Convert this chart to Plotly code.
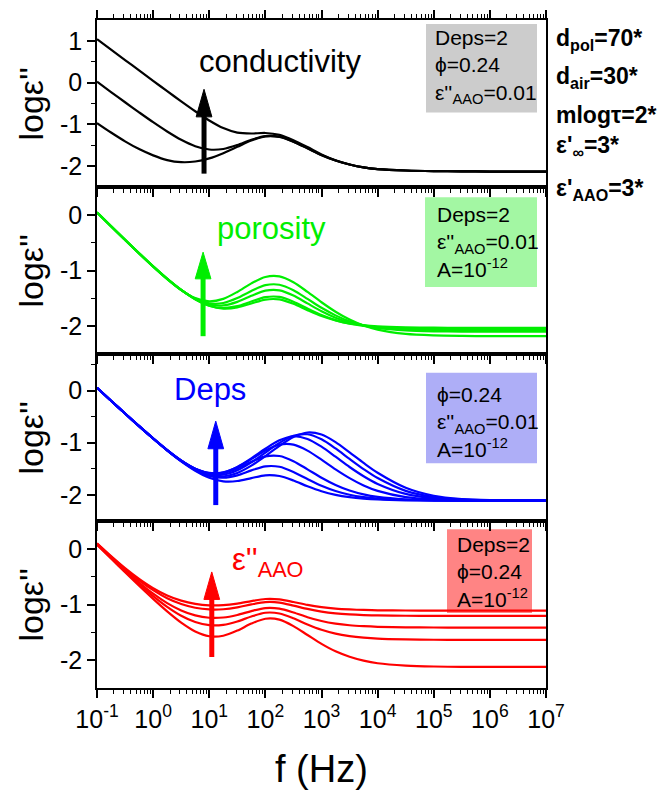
import plotly.graph_objects as go
from plotly.subplots import make_subplots

# ---------------- data ----------------
# log10 of frequency (Hz) at which each curve is sampled
LOG_F = [-1, -0.75, -0.5, -0.25, 0, 0.25, 0.5, 0.75, 1, 1.25, 1.5, 1.75, 2,
         2.25, 2.5, 2.75, 3, 3.25, 3.5, 3.75, 4, 4.5, 5, 5.5, 6, 6.5, 7]

# panel 1: varying conductivity (log eps'')
COND_HIGH = [1.04, 0.791, 0.541, 0.292, 0.043, -0.204, -0.448, -0.685, -0.906, -1.089,
             -1.198, -1.219, -1.206, -1.252, -1.379, -1.544, -1.72, -1.86, -1.96, -2.03,
             -2.07, -2.105, -2.12, -2.125, -2.13, -2.13, -2.13]
COND_MID = [0.023, -0.225, -0.47, -0.712, -0.948, -1.17, -1.369, -1.522, -1.602, -1.589,
            -1.495, -1.369, -1.282, -1.297, -1.413, -1.572, -1.735, -1.865, -1.96, -2.03,
            -2.07, -2.105, -2.12, -2.125, -2.13, -2.13, -2.13]
COND_LOW = [-0.969, -1.195, -1.406, -1.592, -1.742, -1.855, -1.905, -1.89, -1.815, -1.69,
            -1.538, -1.386, -1.29, -1.302, -1.416, -1.575, -1.737, -1.866, -1.96, -2.03,
            -2.07, -2.105, -2.12, -2.125, -2.13, -2.13, -2.13]

# panel 2: varying porosity
POR_1 = [0.043, -0.205, -0.451, -0.694, -0.931, -1.154, -1.351, -1.496, -1.555, -1.51,
         -1.385, -1.231, -1.116, -1.106, -1.212, -1.384, -1.57, -1.74, -1.881, -1.988,
         -2.062, -2.14, -2.167, -2.176, -2.179, -2.18, -2.18]
POR_2 = [0.043, -0.204, -0.45, -0.692, -0.927, -1.15, -1.349, -1.505, -1.59, -1.584,
         -1.495, -1.367, -1.264, -1.256, -1.355, -1.51, -1.67, -1.806, -1.913, -1.985,
         -2.032, -2.077, -2.093, -2.098, -2.1, -2.1, -2.1]
POR_3 = [0.043, -0.204, -0.449, -0.691, -0.926, -1.148, -1.349, -1.511, -1.611, -1.628,
         -1.564, -1.455, -1.362, -1.356, -1.449, -1.591, -1.732, -1.847, -1.932, -1.987,
         -2.022, -2.055, -2.066, -2.069, -2.07, -2.07, -2.07]
POR_4 = [0.044, -0.204, -0.449, -0.69, -0.925, -1.148, -1.35, -1.518, -1.632, -1.674,
         -1.641, -1.557, -1.479, -1.475, -1.56, -1.684, -1.801, -1.891, -1.955, -1.994,
         -2.018, -2.04, -2.047, -2.05, -2.05, -2.05, -2.05]
POR_5 = [0.044, -0.203, -0.448, -0.689, -0.924, -1.146, -1.348, -1.516, -1.634, -1.685,
         -1.664, -1.592, -1.522, -1.52, -1.599, -1.713, -1.818, -1.897, -1.952, -1.984,
         -2.004, -2.021, -2.027, -2.03, -2.03, -2.03, -2.03]

# panel 3: varying Deps
DEPS_1 = [0.053, -0.195, -0.441, -0.683, -0.92, -1.147, -1.357, -1.537, -1.67, -1.739,
          -1.734, -1.677, -1.624, -1.638, -1.724, -1.834, -1.929, -1.998, -2.043, -2.071,
          -2.088, -2.103, -2.108, -2.11, -2.11, -2.11, -2.11]
DEPS_2 = [0.053, -0.195, -0.44, -0.683, -0.919, -1.145, -1.351, -1.522, -1.636, -1.671,
          -1.625, -1.53, -1.453, -1.461, -1.56, -1.696, -1.825, -1.926, -1.997, -2.042,
          -2.071, -2.098, -2.106, -2.11, -2.11, -2.11, -2.11]
DEPS_3 = [0.053, -0.195, -0.44, -0.683, -0.918, -1.142, -1.343, -1.501, -1.588, -1.583,
          -1.495, -1.366, -1.263, -1.255, -1.354, -1.51, -1.672, -1.81, -1.917, -1.991,
          -2.039, -2.087, -2.103, -2.108, -2.11, -2.11, -2.11]
DEPS_4 = [0.053, -0.195, -0.44, -0.683, -0.918, -1.142, -1.342, -1.498, -1.581, -1.57,
          -1.47, -1.315, -1.151, -1.038, -1.037, -1.151, -1.325, -1.511, -1.679, -1.819,
          -1.923, -2.042, -2.087, -2.103, -2.108, -2.11, -2.11]
DEPS_5 = [0.053, -0.195, -0.44, -0.683, -0.918, -1.142, -1.341, -1.497, -1.579, -1.566,
          -1.463, -1.299, -1.115, -0.954, -0.877, -0.927, -1.076, -1.268, -1.465, -1.642,
          -1.789, -1.981, -2.065, -2.095, -2.105, -2.11, -2.11]
DEPS_6 = [0.053, -0.195, -0.44, -0.683, -0.919, -1.143, -1.346, -1.509, -1.606, -1.613,
          -1.529, -1.377, -1.189, -1.003, -0.866, -0.838, -0.935, -1.11, -1.31, -1.505,
          -1.677, -1.922, -2.041, -2.087, -2.103, -2.108, -2.11]
DEPS_7 = [0.053, -0.195, -0.44, -0.683, -0.919, -1.145, -1.349, -1.517, -1.625, -1.647,
          -1.58, -1.44, -1.257, -1.062, -0.892, -0.804, -0.844, -0.989, -1.185, -1.387,
          -1.575, -1.862, -2.016, -2.078, -2.1, -2.107, -2.109]

# panel 4: varying eps''_AAO
AAO_1 = [0.098, -0.132, -0.348, -0.542, -0.708, -0.838, -0.931, -0.988, -1.014, -1.011,
         -0.983, -0.938, -0.901, -0.908, -0.955, -1.008, -1.048, -1.074, -1.089, -1.098,
         -1.104, -1.108, -1.11, -1.11, -1.11, -1.11, -1.11]
AAO_2 = [0.093, -0.141, -0.362, -0.566, -0.743, -0.887, -0.991, -1.058, -1.088, -1.085,
         -1.052, -0.999, -0.957, -0.965, -1.019, -1.08, -1.128, -1.16, -1.179, -1.19,
         -1.197, -1.202, -1.204, -1.205, -1.205, -1.205, -1.205]
AAO_3 = [0.084, -0.155, -0.387, -0.606, -0.805, -0.975, -1.107, -1.196, -1.238, -1.234,
         -1.188, -1.118, -1.064, -1.074, -1.143, -1.228, -1.297, -1.344, -1.373, -1.39,
         -1.401, -1.41, -1.413, -1.415, -1.415, -1.415, -1.415]
AAO_4 = [0.079, -0.165, -0.404, -0.634, -0.849, -1.042, -1.202, -1.315, -1.372, -1.366,
         -1.305, -1.215, -1.148, -1.161, -1.247, -1.358, -1.454, -1.523, -1.567, -1.595,
         -1.613, -1.627, -1.633, -1.634, -1.634, -1.634, -1.634]
AAO_5 = [0.073, -0.175, -0.421, -0.664, -0.9, -1.124, -1.326, -1.484, -1.57, -1.561,
         -1.469, -1.343, -1.256, -1.272, -1.388, -1.548, -1.708, -1.842, -1.939, -2.009,
         -2.056, -2.097, -2.114, -2.12, -2.12, -2.12, -2.12]

PANELS = [
    ("#000000", [COND_HIGH, COND_MID, COND_LOW]),
    ("#00ee00", [POR_1, POR_2, POR_3, POR_4, POR_5]),
    ("#0000ff", [DEPS_1, DEPS_2, DEPS_3, DEPS_4, DEPS_5, DEPS_6, DEPS_7]),
    ("#ff0000", [AAO_1, AAO_2, AAO_3, AAO_4, AAO_5]),
]
Y_RANGES = [[-2.5, 1.5], [-2.5, 0.5], [-2.5, 0.7], [-2.5, 0.5]]
Y_TICKS = [[1, 0, -1, -2], [0, -1, -2], [0, -1, -2], [0, -1, -2]]

# trend arrows per panel: (log f, tail, head base, tip) in log eps'' units
ARROWS = [(0.907, -2.18, -0.82, -0.16),
          (0.89, -2.18, -1.15, -0.67),
          (1.116, -2.195, -1.116, -0.587),
          (1.045, -1.943, -0.909, -0.415)]
ARROW_HALF_DEC = 0.14

X_TICK_EXP = [-1, 0, 1, 2, 3, 4, 5, 6, 7]

# ---------------- layout geometry ----------------
FIG_W, FIG_H = 660, 793
M_L, M_R, M_T, M_B = 97, 114, 10, 105
PLOT_W = FIG_W - M_L - M_R
PLOT_H = FIG_H - M_T - M_B
FONT = "Arial, Liberation Sans, sans-serif"


def px_x(px):
    return (px - M_L) / PLOT_W


def px_y(py):
    return (FIG_H - M_B - py) / PLOT_H


freq = [10 ** v for v in LOG_F]

fig = make_subplots(rows=4, cols=1, shared_xaxes=True, vertical_spacing=0)

for i, (color, curves) in enumerate(PANELS):
    row = i + 1
    for ys in curves:
        fig.add_trace(go.Scatter(x=freq, y=ys, mode="lines",
                                 line=dict(color=color, width=2.2, shape="spline", smoothing=0.8),
                                 showlegend=False, hoverinfo="skip"), row=row, col=1)
    lf, tail, base, tip = ARROWS[i]
    xa = 10 ** lf
    fig.add_trace(go.Scatter(x=[xa, xa], y=[tail, base + 0.05], mode="lines",
                             line=dict(color=color, width=5), showlegend=False,
                             hoverinfo="skip"), row=row, col=1)
    fig.add_trace(go.Scatter(x=[xa * 10 ** -ARROW_HALF_DEC, xa, xa * 10 ** ARROW_HALF_DEC,
                                xa * 10 ** -ARROW_HALF_DEC],
                             y=[base, tip, base, base], mode="lines", fill="toself",
                             fillcolor=color, line=dict(color=color, width=1),
                             showlegend=False, hoverinfo="skip"), row=row, col=1)

x_minor = [m * 10 ** k for k in range(-1, 7) for m in range(2, 10)]
for i in range(4):
    row = i + 1
    fig.update_xaxes(
        type="log", range=[-1, 7], showgrid=False, zeroline=False,
        showline=True, linecolor="black", linewidth=1.5,
        mirror="ticks" if row == 1 else True,
        ticks="outside", ticklen=8, tickwidth=1.5, tickcolor="black",
        tickvals=[10 ** e for e in X_TICK_EXP],
        ticktext=["10<sup>%d</sup>" % e for e in X_TICK_EXP],
        showticklabels=(row == 4),
        tickfont=dict(family=FONT, size=25, color="black"),
        minor=dict(tickvals=x_minor, ticks="outside", ticklen=4, tickwidth=1,
                   tickcolor="black", showgrid=False),
        row=row, col=1)
    lo, hi = Y_RANGES[i]
    minor_y = [v / 2 for v in range(-5, 4) if v % 2 != 0 and lo < v / 2 < hi]
    fig.update_yaxes(
        range=Y_RANGES[i], showgrid=False, zeroline=False,
        showline=True, linecolor="black", linewidth=1.5, mirror=True,
        ticks="outside", ticklen=8, tickwidth=1.5, tickcolor="black",
        tickvals=Y_TICKS[i], ticktext=[str(v) for v in Y_TICKS[i]],
        tickfont=dict(family=FONT, size=25, color="black"),
        minor=dict(tickvals=minor_y, ticks="outside", ticklen=4, tickwidth=1,
                   tickcolor="black", showgrid=False),
        row=row, col=1)

annotations = []
shapes = []

# y-axis titles
for i in range(4):
    y0 = 1 - 0.25 * (i + 1)
    annotations.append(dict(text="logε''", xref="paper", yref="paper",
                            x=px_x(30), y=y0 + 0.125, textangle=-90,
                            showarrow=False, xanchor="center", yanchor="middle",
                            font=dict(family=FONT, size=34, color="black")))

# x-axis title
annotations.append(dict(text="f (Hz)", xref="paper", yref="paper",
                        x=px_x(321.5), y=px_y(770), showarrow=False,
                        xanchor="center", yanchor="middle",
                        font=dict(family=FONT, size=38, color="black")))

# curve-family labels
labels = [("conductivity", "#000000", 280, 52, "center"),
          ("porosity", "#00ee00", 271, 222, "center"),
          ("Deps", "#0000ff", 210, 385, "center"),
          ("ε''<sub>AAO</sub>", "#ff0000", 230, 560, "left")]
for text, color, xp, yp, anchor in labels:
    annotations.append(dict(text=text, xref="paper", yref="paper", x=px_x(xp), y=px_y(yp),
                            showarrow=False, xanchor=anchor, yanchor="middle",
                            font=dict(family=FONT, size=31, color=color)))

# parameter boxes
boxes = [
    ("#cccccc", (426, 537, 14, 104), 433, 57,
     "Deps=2<br>ϕ=0.24<br>ε''<sub>AAO</sub>=0.01"),
    ("#a3f7a3", (425, 537, 190, 281), 435, 235,
     "Deps=2<br>ε''<sub>AAO</sub>=0.01<br>A=10<sup>-12</sup>"),
    ("#aeaef7", (426, 537, 368, 460), 435, 418,
     "ϕ=0.24<br>ε''<sub>AAO</sub>=0.01<br>A=10<sup>-12</sup>"),
    ("#ff8484", (447, 532, 527, 612), 455, 570,
     "Deps=2<br>ϕ=0.24<br>A=10<sup>-12</sup>"),
]
for fill, (x0, x1, y0, y1), tx, ty, text in boxes:
    shapes.append(dict(type="rect", xref="paper", yref="paper",
                       x0=px_x(x0), x1=px_x(x1), y0=px_y(y1), y1=px_y(y0),
                       fillcolor=fill, line=dict(width=0), layer="below"))
    annotations.append(dict(text=text, xref="paper", yref="paper", x=px_x(tx), y=px_y(ty),
                            showarrow=False, xanchor="left", yanchor="middle", align="left",
                            font=dict(family=FONT, size=21, color="black")))

# fixed parameters listed on the right
side = [("d<sub>pol</sub>=70*", 30), ("d<sub>air</sub>=30*", 68), ("mlogτ=2*", 106),
        ("ε'<sub>∞</sub>=3*", 138), ("ε'<sub>AAO</sub>=3*", 182)]
for text, yp in side:
    annotations.append(dict(text="<b>%s</b>" % text, xref="paper", yref="paper",
                            x=px_x(554), y=px_y(yp), showarrow=False,
                            xanchor="left", yanchor="middle",
                            font=dict(family=FONT, size=23, color="black")))

fig.update_layout(width=FIG_W, height=FIG_H,
                  margin=dict(l=M_L, r=M_R, t=M_T, b=M_B),
                  plot_bgcolor="white", paper_bgcolor="white", showlegend=False,
                  font=dict(family=FONT, color="black"),
                  annotations=annotations, shapes=shapes)

fig.write_html("out.html")
